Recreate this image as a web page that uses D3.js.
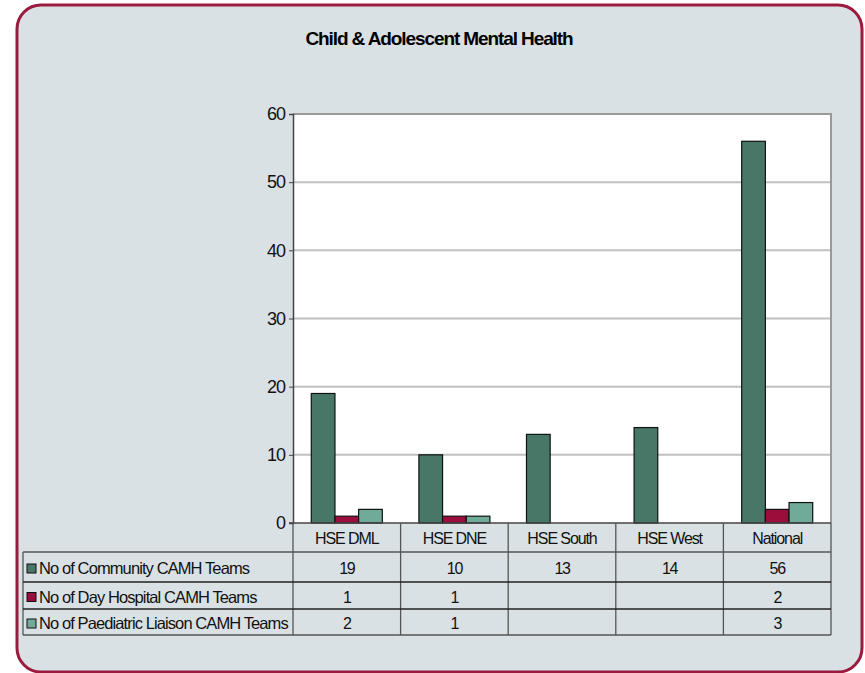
<!DOCTYPE html>
<html>
<head>
<meta charset="utf-8">
<script src="https://cdn.jsdelivr.net/npm/d3@7"></script>
<style>
  body { margin: 0; background: #fff; }
  svg text { font-family: "Liberation Sans", Arial, sans-serif; }
</style>
</head>
<body>
<div id="chart"></div>
<script>
// chart data
const categories = ["HSE DML", "HSE DNE", "HSE South", "HSE West", "National"];
const seriesNames = [
  "No of Community CAMH Teams",
  "No of Day Hospital CAMH Teams",
  "No of Paediatric Liaison CAMH Teams"
];
const communityTeams = [19, 10, 13, 14, 56];
const dayHospitalTeams = [1, 1, null, null, 2];
const liaisonTeams = [2, 1, null, null, 3];
const yTicks = [0, 10, 20, 30, 40, 50, 60];

const colors = ["#477867", "#9b0d3a", "#6fab98"];
const series = [communityTeams, dayHospitalTeams, liaisonTeams];

const width = 865, height = 673;
const plot = { left: 293, right: 831, top: 114, bottom: 523 };
const rowLines = [552, 582, 609, 635];
const tableLeft = 23;

const svg = d3.select("#chart").append("svg")
  .attr("width", width)
  .attr("height", height);

// outer frame
svg.append("rect")
  .attr("x", 17).attr("y", 5)
  .attr("width", 845).attr("height", 667)
  .attr("rx", 24)
  .attr("fill", "#d9e1e4")
  .attr("stroke", "#9b1b3e")
  .attr("stroke-width", 3);

svg.append("text")
  .attr("x", 439).attr("y", 45)
  .attr("text-anchor", "middle")
  .attr("font-size", 19)
  .attr("font-weight", "bold")
  .attr("letter-spacing", -1.1)
  .text("Child & Adolescent Mental Health");

const x = d3.scaleBand()
  .domain(categories)
  .range([plot.left, plot.right])
  .padding(0);

const xInner = d3.scaleBand()
  .domain(d3.range(series.length))
  .range([x.step() * 0.17, x.step() * 0.83])
  .padding(0);

const y = d3.scaleLinear()
  .domain([0, 60])
  .range([plot.bottom, plot.top]);

// plot background
svg.append("rect")
  .attr("x", plot.left).attr("y", plot.top)
  .attr("width", plot.right - plot.left)
  .attr("height", plot.bottom - plot.top)
  .attr("fill", "#fff");

// gridlines
svg.append("g")
  .selectAll("line")
  .data(yTicks.filter(d => d > 0 && d < 60))
  .join("line")
  .attr("x1", plot.left).attr("x2", plot.right)
  .attr("y1", d => y(d)).attr("y2", d => y(d))
  .attr("stroke", "#c0c0c0")
  .attr("stroke-width", 2);

// plot border top / right
svg.append("path")
  .attr("d", `M${plot.left},${plot.top}H${plot.right}V${plot.bottom}`)
  .attr("fill", "none")
  .attr("stroke", "#999")
  .attr("stroke-width", 2);

// bars
svg.append("g")
  .selectAll("g")
  .data(series)
  .join("g")
  .attr("fill", (d, i) => colors[i])
  .each(function (vals, si) {
    d3.select(this).selectAll("rect")
      .data(vals.map((v, ci) => ({ v, c: categories[ci] })).filter(d => d.v != null))
      .join("rect")
      .attr("x", d => x(d.c) + xInner(si))
      .attr("width", xInner.bandwidth())
      .attr("y", d => y(d.v))
      .attr("height", d => y(0) - y(d.v))
      .attr("stroke", "#111")
      .attr("stroke-width", 1.2);
  });

// y axis
const yAxis = svg.append("g")
  .attr("transform", `translate(${plot.left},0)`)
  .call(d3.axisLeft(y).tickValues(yTicks).tickSize(4).tickPadding(4));
yAxis.select(".domain").attr("stroke", "#444").attr("stroke-width", 1.5);
yAxis.selectAll(".tick line").attr("stroke", "#444");
yAxis.selectAll("text")
  .attr("font-size", 18)
  .attr("letter-spacing", -1)
  .attr("fill", "#111");

// x axis line
svg.append("line")
  .attr("x1", plot.left - 4).attr("x2", plot.right)
  .attr("y1", plot.bottom).attr("y2", plot.bottom)
  .attr("stroke", "#444").attr("stroke-width", 1.5);

// data table
const table = svg.append("g").attr("stroke", "#555").attr("stroke-width", 1.3);

// column separators (header + body)
table.selectAll("line.col")
  .data([plot.left, ...categories.map(c => x(c) + x.bandwidth())])
  .join("line")
  .attr("class", "col")
  .attr("x1", d => d).attr("x2", d => d)
  .attr("y1", plot.bottom).attr("y2", rowLines[3]);

table.append("line")
  .attr("x1", tableLeft).attr("x2", tableLeft)
  .attr("y1", rowLines[0]).attr("y2", rowLines[3]);

table.selectAll("line.row")
  .data(rowLines)
  .join("line")
  .attr("class", "row")
  .attr("x1", tableLeft).attr("x2", plot.right)
  .attr("y1", d => d).attr("y2", d => d)
  .attr("stroke", (d, i) => (i === 1 || i === 2) ? "#222" : "#555");

// header labels
svg.append("g")
  .selectAll("text")
  .data(categories)
  .join("text")
  .attr("x", d => x(d) + x.bandwidth() / 2)
  .attr("y", 544)
  .attr("text-anchor", "middle")
  .attr("font-size", 16)
  .attr("letter-spacing", -1.1)
  .attr("fill", "#111")
  .text(d => d);

// row labels with legend keys
const rows = svg.append("g")
  .selectAll("g")
  .data(seriesNames)
  .join("g")
  .attr("transform", (d, i) => `translate(0,${(rowLines[i] + rowLines[i + 1]) / 2})`);

rows.append("rect")
  .attr("x", 27).attr("y", -3)
  .attr("width", 9).attr("height", 9)
  .attr("fill", (d, i) => colors[i])
  .attr("stroke", "#111");

rows.append("text")
  .attr("x", 39).attr("y", 7)
  .attr("font-size", 16.5)
  .attr("letter-spacing", -0.9)
  .attr("fill", "#111")
  .text(d => d);

// row values
rows.each(function (name, si) {
  d3.select(this).selectAll("text.val")
    .data(series[si].map((v, ci) => ({ v, c: categories[ci] })).filter(d => d.v != null))
    .join("text")
    .attr("class", "val")
    .attr("x", d => x(d.c) + x.bandwidth() / 2)
    .attr("y", 7)
    .attr("text-anchor", "middle")
    .attr("font-size", 16)
    .attr("letter-spacing", -1.3)
    .attr("fill", "#111")
    .text(d => d.v);
});
</script>
</body>
</html>
